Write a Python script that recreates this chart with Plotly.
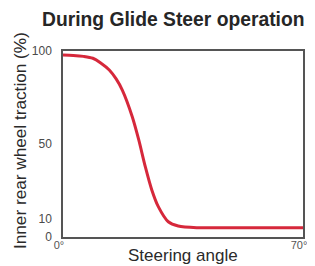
import plotly.graph_objects as go

steering_angle = [0, 3, 6, 8.7, 11, 13.5, 15.5, 17.3, 20.2, 22.1, 24, 25.9, 27.8, 30.7, 33.6, 39.3, 50, 70]
traction = [97.8, 97.6, 97.1, 96.1, 93.6, 89.8, 85, 79, 64.7, 52.2, 37.8, 25.3, 16.3, 8.2, 5.9, 5.0, 5.0, 5.0]

x_tick_vals = [0, 70]
x_tick_text = ["0°", "70°"]
y_tick_vals = [0, 10, 50, 100]
y_tick_text = ["0", "10", "50", "100"]

title_text = "During Glide Steer operation"
x_title = "Steering angle"
y_title = "Inner rear wheel traction (%)"

FONT = "Liberation Sans, Arial, Helvetica, sans-serif"

# the page body has an 8px margin, so the figure is sized / offset to compensate
fig = go.Figure()
fig.add_trace(go.Scatter(
    x=steering_angle, y=traction, mode="lines",
    line=dict(color="#d6283b", width=3, shape="spline", smoothing=0.8),
    hoverinfo="skip", showlegend=False,
))

fig.update_layout(
    width=307, height=258,
    margin=dict(l=55, r=8, t=43, b=29),
    paper_bgcolor="white", plot_bgcolor="white",
    font=dict(family=FONT, color="#333333"),
    showlegend=False,
    annotations=[
        dict(text="<b>" + title_text + "</b>", xref="paper", yref="paper",
             x=(175 - 63) / 244, y=1, yshift=32, showarrow=False,
             font=dict(size=19.3, color="#262626", family=FONT), xanchor="center", yanchor="middle"),
        dict(text=x_title, xref="paper", yref="paper", x=(185 - 63) / 244, y=0, yshift=-18.5,
             showarrow=False, font=dict(size=17, color="#2a2a2a", family=FONT),
             xanchor="center", yanchor="middle"),
        dict(text=y_title, xref="paper", yref="paper", x=0, xshift=-43, y=0.516,
             showarrow=False, textangle=-90, font=dict(size=17.2, color="#2a2a2a", family=FONT),
             xanchor="center", yanchor="middle"),
    ],
)

fig.update_xaxes(
    range=[0, 70], tickvals=x_tick_vals, ticktext=x_tick_text,
    showgrid=False, zeroline=False, showline=True, mirror=True,
    linecolor="#555555", linewidth=1.5, ticks="", ticklabelshift=-4, ticklabelstandoff=-3,
    tickfont=dict(size=11, color="#555555", family=FONT),
)
fig.update_yaxes(
    range=[0, 100], tickvals=y_tick_vals, ticktext=y_tick_text,
    showgrid=False, zeroline=False, showline=True, mirror=True,
    linecolor="#555555", linewidth=1.5, ticks="", ticklabelstandoff=7,
    tickfont=dict(size=12, color="#4a4a4a", family=FONT),
)

fig.write_html("out.html")
